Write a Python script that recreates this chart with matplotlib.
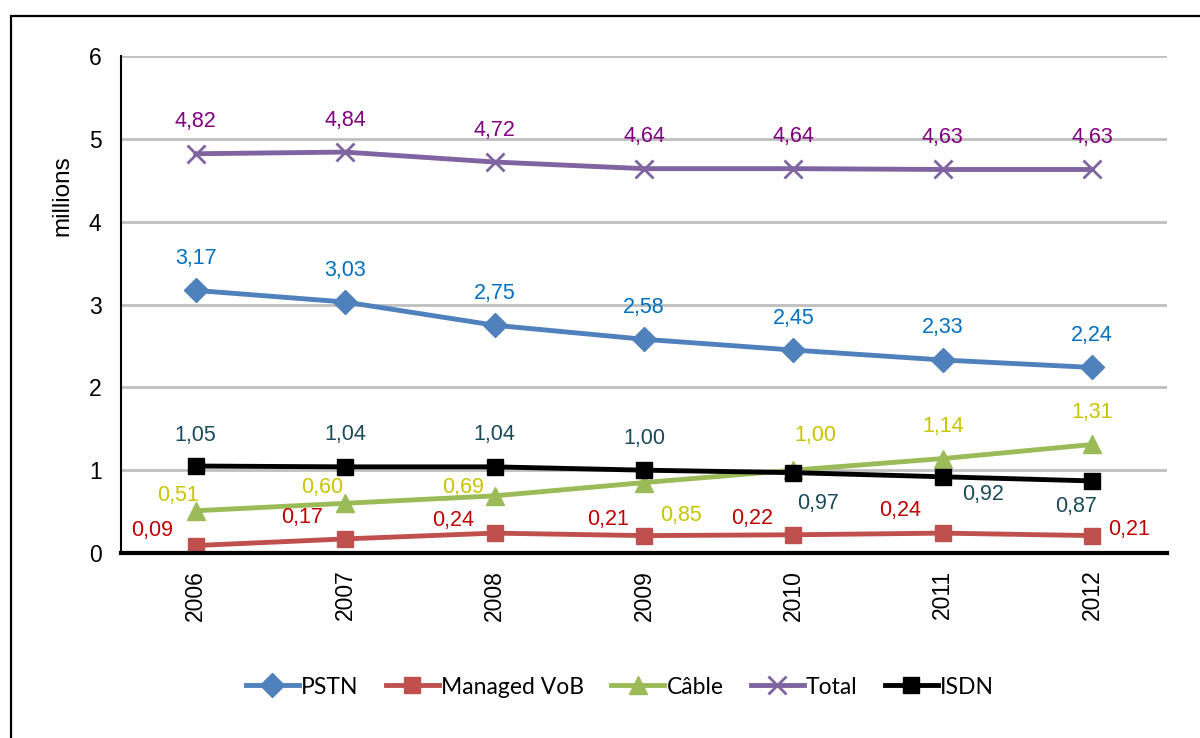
import matplotlib
matplotlib.use('Agg')
from matplotlib import pyplot as plt
from matplotlib.patches import Rectangle

# données
years = ['2006', '2007', '2008', '2009', '2010', '2011', '2012']
pstn = [3.17, 3.03, 2.75, 2.58, 2.45, 2.33, 2.24]
managed_vob = [0.09, 0.17, 0.24, 0.21, 0.22, 0.24, 0.21]
cable = [0.51, 0.60, 0.69, 0.85, 1.00, 1.14, 1.31]
total = [4.82, 4.84, 4.72, 4.64, 4.64, 4.63, 4.63]
isdn = [1.05, 1.04, 1.04, 1.00, 0.97, 0.92, 0.87]

# décalages des étiquettes (pixels)
off_above = [(0, 32)] * 7
off_vob = [(-44, 15), (-43, 21), (-41, 13), (-36, 16), (-41, 16), (-43, 23), (37, 6)]
off_cable = [(-18, 15), (-23, 16), (-32, 8), (37, -33), (22, 35), (0, 32), (0, 32)]
off_isdn = [(0, 31), (0, 32), (0, 32), (0, 32), (25, -31), (40, -18), (-16, -26)]

series = [
    ('PSTN', pstn, '#4F81BD', 'D', 12, '#0070C0', off_above),
    ('Managed VoB', managed_vob, '#C0504D', 's', 12, '#C00000', off_vob),
    ('Câble', cable, '#9BBB59', '^', 13, '#C8C400', off_cable),
    ('Total', total, '#8064A2', 'x', 13, '#800080', off_above),
    ('ISDN', isdn, '#000000', 's', 12, '#1B4A5A', off_isdn),
]

plt.rcParams['font.family'] = ['Liberation Sans', 'DejaVu Sans']

fig = plt.figure(figsize=(12, 7.38), dpi=100)
fig.patches.append(Rectangle((11 / 1200, -0.1), 1.2, 1 - 16 / 738 + 0.1,
                             transform=fig.transFigure, fill=False,
                             edgecolor='black', linewidth=1.6))
ax = fig.add_axes([121 / 1200, 1 - 553 / 738, 1046 / 1200, 497 / 738])

x = list(range(len(years)))
for name, vals, color, marker, ms, lcolor, offs in series:
    mew = 2 if marker == 'x' else 1
    ax.plot(x, vals, color=color, linewidth=3.5, marker=marker, markersize=ms,
            markeredgewidth=mew, label=name)
    for xi, v, o in zip(x, vals, offs):
        ax.annotate(('%.2f' % v).replace('.', ','), (xi, v), xytext=o,
                    textcoords='offset pixels', ha='center', va='center',
                    fontsize=15.5, color=lcolor)

ax.set_xlim(-0.5, 6.5)
ax.set_ylim(0, 6)
ax.set_yticks(range(7))
ax.set_xticks(x)
ax.set_xticklabels(years, rotation=90, fontsize=16.5)
ax.tick_params(axis='y', labelsize=16.5, length=0, pad=14)
ax.tick_params(axis='x', length=0, pad=12)
ax.grid(axis='y', color='#BFBFBF', linewidth=2)
ax.set_axisbelow(True)
for s in ['top', 'right']:
    ax.spines[s].set_visible(False)
ax.spines['left'].set_linewidth(1.5)
ax.spines['bottom'].set_linewidth(3)
ax.spines['bottom'].set_zorder(5)
ax.set_ylabel('millions', fontsize=17.5, va='center')
ax.yaxis.set_label_coords(-0.056, 0.72)

leg = fig.legend(loc='center', bbox_to_anchor=(620 / 1200, 1 - 687 / 738),
                 ncol=5, frameon=False, prop={'family': 'Lato', 'size': 16.5},
                 handlelength=2.3, handletextpad=0.1, columnspacing=1.2)

plt.savefig('out.png', dpi=100)
